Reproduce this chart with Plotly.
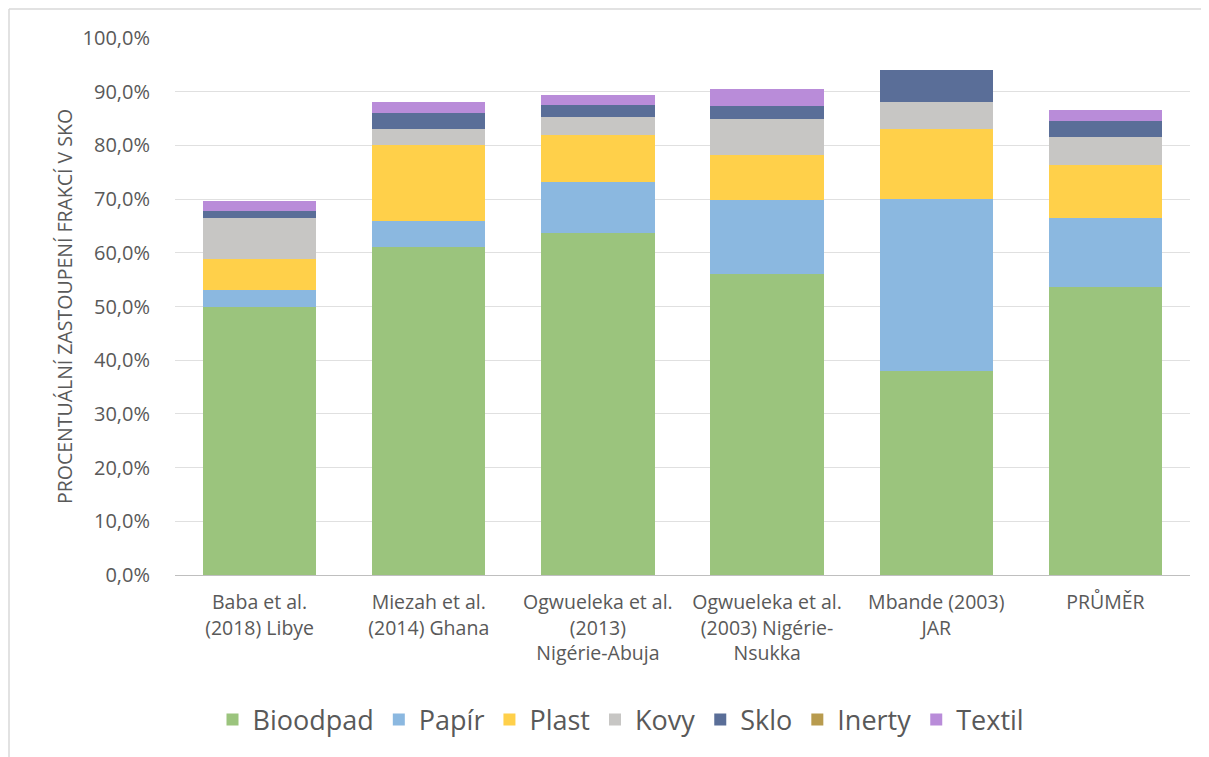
import plotly.graph_objects as go

categories = [
    "Baba et al.<br>(2018) Libye",
    "Miezah et al.<br>(2014) Ghana",
    "Ogwueleka et al.<br>(2013)<br>Nigérie-Abuja",
    "Ogwueleka et al.<br>(2003) Nigérie-<br>Nsukka",
    "Mbande (2003)<br>JAR",
    "PRŮMĚR",
]

bioodpad = [0.500, 0.610, 0.636, 0.560, 0.380, 0.537]
papir = [0.030, 0.050, 0.096, 0.138, 0.320, 0.127]
plast = [0.058, 0.140, 0.087, 0.084, 0.130, 0.100]
kovy = [0.077, 0.030, 0.033, 0.067, 0.050, 0.052]
sklo = [0.012, 0.030, 0.024, 0.025, 0.060, 0.030]
inerty = [0.0, 0.0, 0.0, 0.0, 0.0, 0.0]
textil = [0.019, 0.020, 0.017, 0.031, 0.0, 0.020]

series = [
    ("Bioodpad", bioodpad, "#9BC47D"),
    ("Papír", papir, "#8BB8E0"),
    ("Plast", plast, "#FFD04A"),
    ("Kovy", kovy, "#C7C6C4"),
    ("Sklo", sklo, "#5A6E98"),
    ("Inerty", inerty, "#B89B4E"),
    ("Textil", textil, "#B98CD9"),
]

font_family = "Open Sans, sans-serif"

fig = go.Figure()
for name, vals, col in series:
    fig.add_trace(go.Bar(
        x=categories, y=vals, name=name,
        marker=dict(color=col, line=dict(width=0)),
        hovertemplate="%{y:.1%}<extra>" + name + "</extra>",
    ))

# figure sits inside the page body (8px default margin)
W, H = 1201, 749
L, R, T, B = 167, 19, 30, 182
pw, ph = W - L - R, H - T - B

fig.update_layout(
    barmode="stack",
    bargap=0.33,
    width=W, height=H,
    margin=dict(l=L, r=R, t=T, b=B, autoexpand=False),
    paper_bgcolor="white",
    plot_bgcolor="white",
    separators=", ",
    font=dict(family=font_family, color="#595959", size=19),
    xaxis=dict(
        showgrid=False,
        showline=True, linecolor="#BFBFBF", linewidth=1,
        ticks="outside", ticklen=10, tickcolor="rgba(0,0,0,0)",
        tickfont=dict(size=19.5, color="#595959"),
        tickangle=0,
    ),
    yaxis=dict(
        range=[0, 1.0],
        dtick=0.1,
        tickformat=".1%",
        showgrid=True, gridcolor="#E0E0E0", gridwidth=1,
        zeroline=False,
        showline=False,
        ticks="outside", ticklen=20, tickcolor="rgba(0,0,0,0)",
        tickfont=dict(size=20, color="#595959"),
        title=dict(text="PROCENTUÁLNÍ ZASTOUPENÍ FRAKCÍ V SKO",
                   font=dict(size=19.5, color="#595959"), standoff=4),
    ),
    legend=dict(
        orientation="h",
        x=(621 - 175) / pw, xanchor="center",
        y=(567 - 712) / ph, yanchor="middle",
        font=dict(size=27, color="#595959"),
        traceorder="normal",
        itemwidth=30,
    ),
    shapes=[
        dict(type="line", xref="paper", yref="paper",
             x0=(1 - L) / pw, x1=(W - L) / pw,
             y0=(H - B - 1) / ph, y1=(H - B - 1) / ph,
             line=dict(color="#D9D9D9", width=1.5), layer="below"),
        dict(type="line", xref="paper", yref="paper",
             x0=(1 - L) / pw, x1=(1 - L) / pw,
             y0=(H - B - 1) / ph, y1=-B / ph,
             line=dict(color="#D9D9D9", width=1.5), layer="below"),
    ],
)

fig.write_html("out.html")
